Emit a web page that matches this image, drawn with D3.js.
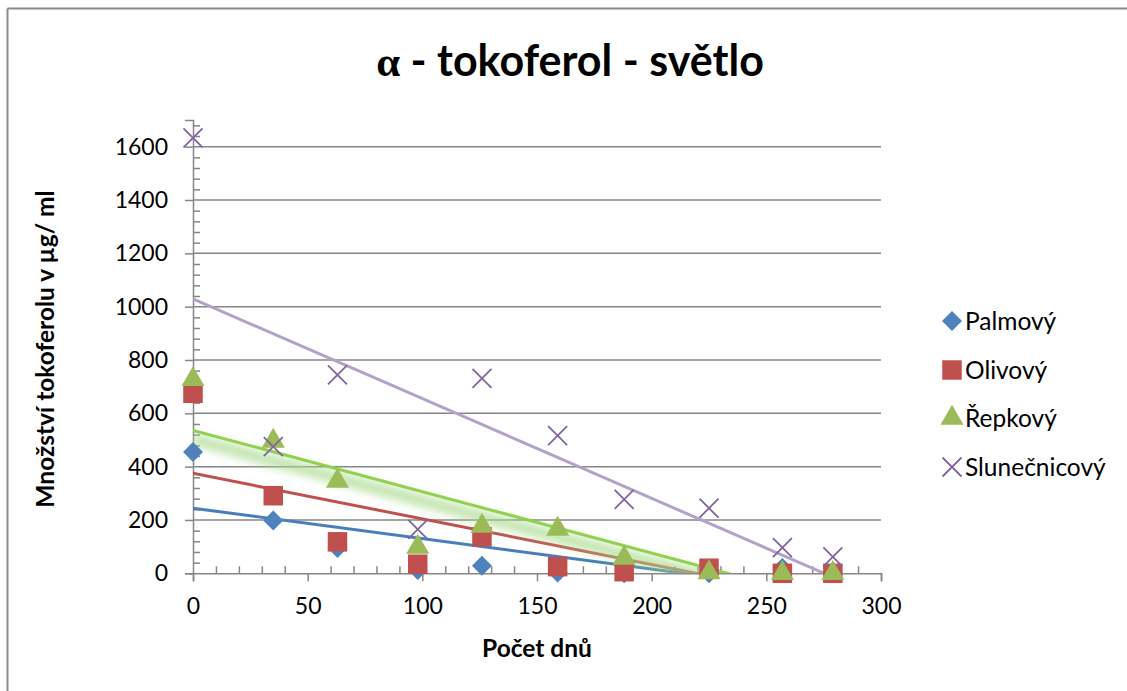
<!DOCTYPE html>
<html><head><meta charset="utf-8">
<script src="https://cdn.jsdelivr.net/npm/d3@7"></script>
<style>
html,body{margin:0;padding:0;background:#fff;overflow:hidden;width:100%;height:100%;}
svg{display:block;position:absolute;left:0;top:0;}
svg text{font-family:Lato,"Open Sans",sans-serif;fill:#000;}
</style>
</head><body>
<svg id="c" width="1127" height="691" overflow="hidden"></svg>
<script>
// ---- data ----
const days = [0, 35, 63, 98, 126, 159, 188, 225, 257, 279];
const palmovy = [455, 198, 95, 12, 28, 3, 0, 0, 20, 0];
const olivovy = [675, 291, 118, 34, 137, 25, 6, 19, 0, 0];
const repkovy = [727, 496, 346, 98, 177, 166, 57, 3, 0, 0];
const slunecnicovy = [1633, 475, 744, 165, 731, 516, 277, 244, 96, 62];
const seriesNames = ["Palmový", "Olivový", "Řepkový", "Slunečnicový"];
const yMajorTicks = [0, 200, 400, 600, 800, 1000, 1200, 1400, 1600];
const xMajorTicks = [0, 50, 100, 150, 200, 250, 300];
const titleAlpha = "α";
const titleRest = " - tokoferol - světlo";
const xTitle = "Počet dnů";
const yTitle = "Množství tokoferolu v µg/ ml";

// ---- styles ----
const markerColors = ["#4F81BD", "#C0504D", "#9BBB59", "#8064A2"];
const trendColors = ["#4A7EBB", "#C0504D", "#92D050", "#B3A2C7"];
const shapes = ["diamond", "square", "triangle", "cross"];
const seriesValues = [palmovy, olivovy, repkovy, slunecnicovy];

const svg = d3.select("#c");
const x = d3.scaleLinear().domain([0, 300]).range([193, 881]);
const y = d3.scaleLinear().domain([0, 1700]).range([573.3, 120]);

// chart border (left and top only visible)
svg.append("line").attr("x1", 7.5).attr("x2", 7.5).attr("y1", 8.5).attr("y2", 691)
  .attr("stroke", "#8a8a8a").attr("stroke-width", 2);
svg.append("line").attr("x1", 7.5).attr("x2", 1127).attr("y1", 8.5).attr("y2", 8.5)
  .attr("stroke", "#8a8a8a").attr("stroke-width", 2);

const defs = svg.append("defs");
defs.append("filter").attr("id", "blur").attr("x", "-20%").attr("y", "-50%").attr("width", "140%").attr("height", "200%")
  .append("feGaussianBlur").attr("stdDeviation", 4.5);
defs.append("clipPath").attr("id", "plot").append("rect")
  .attr("x", x(0)).attr("y", y(1700)).attr("width", x(300) - x(0)).attr("height", y(0) - y(1700));

// gridlines
svg.append("g").selectAll("line").data(yMajorTicks.filter(v => v > 0)).join("line")
  .attr("x1", x(0)).attr("x2", x(300)).attr("y1", d => y(d)).attr("y2", d => y(d))
  .attr("stroke", "#868686").attr("stroke-width", 1.5);

// axes
const fmt = d3.format("d");
const yMinor = d3.range(0, 1700, 40).filter(v => v % 200 !== 0);
const xMinor = d3.range(0, 301, 10).filter(v => v % 50 !== 0);
const gy = svg.append("g").attr("transform", `translate(${x(0)},0)`);
gy.call(d3.axisLeft(y).tickValues(yMajorTicks).tickFormat(fmt).tickSize(8).tickPadding(17));
const gy2 = svg.append("g").attr("transform", `translate(${x(0)},0)`);
gy2.call(d3.axisRight(y).tickValues(yMinor).tickSize(7).tickFormat(""));
gy2.select(".domain").remove();
const gx = svg.append("g").attr("transform", `translate(0,${y(0)})`);
gx.call(d3.axisBottom(x).tickValues(xMajorTicks).tickFormat(fmt).tickSize(8).tickPadding(16));
const gx2 = svg.append("g").attr("transform", `translate(0,${y(0)})`);
gx2.call(d3.axisTop(x).tickValues(xMinor).tickSize(7).tickFormat(""));
gx2.select(".domain").remove();
svg.selectAll(".domain").attr("stroke", "#868686").attr("stroke-width", 1.5);
svg.selectAll(".tick line").attr("stroke", "#868686").attr("stroke-width", 1.5);
svg.selectAll(".tick text").attr("font-size", 23).attr("font-family", "Lato");

// trendlines (least squares)
function fit(xs, ys) {
  const mx = d3.mean(xs), my = d3.mean(ys);
  let sxy = 0, sxx = 0;
  xs.forEach((v, i) => { sxy += (v - mx) * (ys[i] - my); sxx += (v - mx) * (v - mx); });
  const b = sxy / sxx; return { b, a: my - b * mx };
}
const line = d3.line().x(d => x(d[0])).y(d => y(d[1]));
const trendG = svg.append("g").attr("clip-path", "url(#plot)");
seriesValues.forEach((vals, i) => {
  const f = fit(days, vals);
  const x1 = d3.max(days);
  const pts = [[0, f.a], [x1, f.a + f.b * x1]];
  if (i === 2) {
    trendG.append("path").attr("d", line(pts)).attr("fill", "none")
      .attr("stroke", "#a8da8c").attr("stroke-width", 12).attr("opacity", 0.7)
      .attr("transform", "translate(0,9)").attr("filter", "url(#blur)");
  }
  trendG.append("path").attr("d", line(pts)).attr("fill", "none")
    .attr("stroke", trendColors[i]).attr("stroke-width", 3);
});

// markers
const sym = {
  diamond: "M0,-10L10,0L0,10L-10,0Z",
  square: d3.symbol().type(d3.symbolSquare).size(380)(),
  triangle: d3.symbol().type(d3.symbolTriangle).size(230)()
};
function drawMarker(g, shape, color, cx, cy) {
  if (shape === "cross") {
    const r = 9.5;
    g.append("path").attr("d", `M${cx - r},${cy - r}L${cx + r},${cy + r}M${cx - r},${cy + r}L${cx + r},${cy - r}`)
      .attr("stroke", color).attr("stroke-width", 1.8).attr("fill", "none");
  } else {
    g.append("path").attr("d", sym[shape]).attr("transform", `translate(${cx},${cy})`)
      .attr("fill", color);
  }
}
seriesValues.forEach((vals, i) => {
  const g = svg.append("g");
  vals.forEach((v, j) => drawMarker(g, shapes[i], markerColors[i], x(days[j]), y(v)));
});

// legend
const legY = [321, 370, 418, 467];
seriesNames.forEach((n, i) => {
  const g = svg.append("g");
  drawMarker(g, shapes[i], markerColors[i], 952, legY[i]);
  g.append("text").attr("x", 965).attr("y", legY[i]).attr("dy", "0.36em")
    .attr("font-size", 24.5).text(n);
});

// titles
const t = svg.append("text").attr("x", 570).attr("y", 76).attr("text-anchor", "middle")
  .attr("font-size", 43).attr("font-weight", "bold");
t.append("tspan").attr("font-family", "Liberation Serif").text(titleAlpha);
t.append("tspan").text(titleRest);
svg.append("text").attr("x", 537).attr("y", 657).attr("text-anchor", "middle")
  .attr("font-size", 24.5).attr("font-weight", "bold").text(xTitle);
svg.append("text").attr("transform", "translate(54,349) rotate(-90)").attr("text-anchor", "middle")
  .attr("font-size", 24.5).attr("font-weight", "bold").text(yTitle);
</script>
</body></html>
